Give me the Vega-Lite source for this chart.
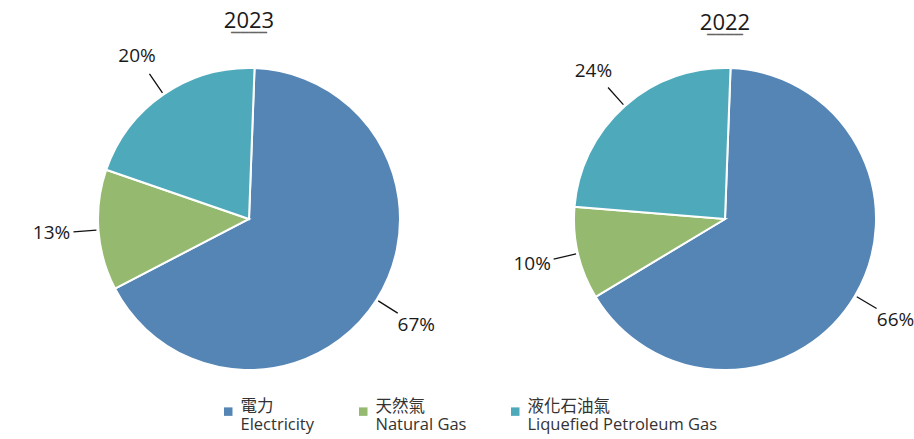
{
  "$schema": "https://vega.github.io/schema/vega-lite/v6.json",
  "autosize": {"type": "pad"},
  "padding": {"left": 29, "top": 9, "right": 0, "bottom": 0},
  "background": "white",
  "config": {"view": {"stroke": null}, "font": "Open Sans, Noto Sans CJK TC"},
  "data": {"values": [
    {"year": "2023", "order": 1, "cat": "電力|Electricity", "value": 66.8, "label": "67%"},
    {"year": "2023", "order": 2, "cat": "天然氣|Natural Gas", "value": 12.9, "label": "13%"},
    {"year": "2023", "order": 3, "cat": "液化石油氣|Liquefied Petroleum Gas", "value": 20.3, "label": "20%"},
    {"year": "2022", "order": 1, "cat": "電力|Electricity", "value": 65.8, "label": "66%"},
    {"year": "2022", "order": 2, "cat": "天然氣|Natural Gas", "value": 9.9, "label": "10%"},
    {"year": "2022", "order": 3, "cat": "液化石油氣|Liquefied Petroleum Gas", "value": 24.3, "label": "24%"}
  ]},
  "bounds": "flush",
  "spacing": 36,
  "hconcat": [
    {
      "title": {"text": "2023", "subtitle": "____", "anchor": "middle", "fontSize": 22, "fontWeight": "normal", "color": "#1a1a1a", "font": "Open Sans", "subtitleFont": "Open Sans", "subtitleFontSize": 22, "subtitleFontWeight": "bold", "subtitleColor": "#666666", "subtitlePadding": -20, "offset": 12},
      "width": 440,
      "height": 340,
      "transform": [{"filter": {"field": "year", "equal": "2023"}}],
      "layer": [
        {
          "transform": [{"stack": "value", "groupby": ["year"], "sort": [{"field": "order"}], "as": ["s", "e"]}],
          "mark": {"type": "arc", "outerRadius": 151, "stroke": "white", "strokeWidth": 2},
          "encoding": {
            "theta": {"field": "s", "type": "quantitative", "stack": null, "scale": {"domain": [0, 100], "range": [0.0367, 6.3199]}},
            "theta2": {"field": "e"},
            "color": {"field": "cat", "type": "nominal", "scale": {"domain": ["電力|Electricity", "天然氣|Natural Gas", "液化石油氣|Liquefied Petroleum Gas"], "range": ["#5585b5", "#95ba6f", "#4eaabb"]},
              "legend": {"title": null, "orient": "none", "legendX": 191, "legendY": 354, "direction": "horizontal", "columns": 3, "columnPadding": 40, "symbolType": "square", "symbolSize": 72, "symbolStrokeWidth": 0, "labelOffset": 4, "labelFontSize": 16.5, "labelColor": "#333333", "labelFont": "Open Sans, Noto Sans CJK TC", "labelLimit": 400, "labelBaseline": "alphabetic", "labelExpr": "split(datum.label, '|')", "padding": 0}}
          }
        },
        {
          "transform": [
            {"stack": "value", "groupby": ["year"], "sort": [{"field": "order"}], "as": ["s", "e"]},
            {"fold": ["s", "e"], "as": ["k", "v"]},
            {"aggregate": [{"op": "mean", "field": "v", "as": "mid"}], "groupby": ["cat", "label", "order"]}
          ],
          "mark": {"type": "arc", "innerRadius": 153, "outerRadius": 176, "stroke": "#111111", "strokeWidth": 1.3, "fill": null},
          "encoding": {
            "theta": {"field": "mid", "type": "quantitative", "stack": null, "scale": {"domain": [0, 100], "range": [0.0367, 6.3199]}},
            "theta2": {"field": "mid"}
          }
        },
        {
          "transform": [
            {"stack": "value", "groupby": ["year"], "sort": [{"field": "order"}], "as": ["s", "e"]},
            {"fold": ["s", "e"], "as": ["k", "v"]},
            {"aggregate": [{"op": "mean", "field": "v", "as": "mid"}], "groupby": ["cat", "label", "order"]}
          ],
          "mark": {"type": "text", "radius": 198, "fontSize": 19, "fontWeight": 500, "color": "#1a1a1a", "font": "Open Sans"},
          "encoding": {
            "theta": {"field": "mid", "type": "quantitative", "stack": null, "scale": {"domain": [0, 100], "range": [0.0367, 6.3199]}},
            "text": {"field": "label"}
          }
        }
      ]
    },
    {
      "title": {"text": "2022", "subtitle": "____", "anchor": "middle", "fontSize": 22, "fontWeight": "normal", "color": "#1a1a1a", "font": "Open Sans", "subtitleFont": "Open Sans", "subtitleFontSize": 22, "subtitleFontWeight": "bold", "subtitleColor": "#666666", "subtitlePadding": -20, "offset": 12},
      "width": 440,
      "height": 340,
      "transform": [{"filter": {"field": "year", "equal": "2022"}}],
      "layer": [
        {
          "transform": [{"stack": "value", "groupby": ["year"], "sort": [{"field": "order"}], "as": ["s", "e"]}],
          "mark": {"type": "arc", "outerRadius": 151, "stroke": "white", "strokeWidth": 2},
          "encoding": {
            "theta": {"field": "s", "type": "quantitative", "stack": null, "scale": {"domain": [0, 100], "range": [0.0367, 6.3199]}},
            "theta2": {"field": "e"},
            "color": {"field": "cat", "type": "nominal", "scale": {"domain": ["電力|Electricity", "天然氣|Natural Gas", "液化石油氣|Liquefied Petroleum Gas"], "range": ["#5585b5", "#95ba6f", "#4eaabb"]},
              "legend": {"title": null, "orient": "none", "legendX": 191, "legendY": 354, "direction": "horizontal", "columns": 3, "columnPadding": 40, "symbolType": "square", "symbolSize": 72, "symbolStrokeWidth": 0, "labelOffset": 4, "labelFontSize": 16.5, "labelColor": "#333333", "labelFont": "Open Sans, Noto Sans CJK TC", "labelLimit": 400, "labelBaseline": "alphabetic", "labelExpr": "split(datum.label, '|')", "padding": 0}}
          }
        },
        {
          "transform": [
            {"stack": "value", "groupby": ["year"], "sort": [{"field": "order"}], "as": ["s", "e"]},
            {"fold": ["s", "e"], "as": ["k", "v"]},
            {"aggregate": [{"op": "mean", "field": "v", "as": "mid"}], "groupby": ["cat", "label", "order"]}
          ],
          "mark": {"type": "arc", "innerRadius": 153, "outerRadius": 176, "stroke": "#111111", "strokeWidth": 1.3, "fill": null},
          "encoding": {
            "theta": {"field": "mid", "type": "quantitative", "stack": null, "scale": {"domain": [0, 100], "range": [0.0367, 6.3199]}},
            "theta2": {"field": "mid"}
          }
        },
        {
          "transform": [
            {"stack": "value", "groupby": ["year"], "sort": [{"field": "order"}], "as": ["s", "e"]},
            {"fold": ["s", "e"], "as": ["k", "v"]},
            {"aggregate": [{"op": "mean", "field": "v", "as": "mid"}], "groupby": ["cat", "label", "order"]}
          ],
          "mark": {"type": "text", "radius": 198, "fontSize": 19, "fontWeight": 500, "color": "#1a1a1a", "font": "Open Sans"},
          "encoding": {
            "theta": {"field": "mid", "type": "quantitative", "stack": null, "scale": {"domain": [0, 100], "range": [0.0367, 6.3199]}},
            "text": {"field": "label"}
          }
        }
      ]
    }
  ]
}
